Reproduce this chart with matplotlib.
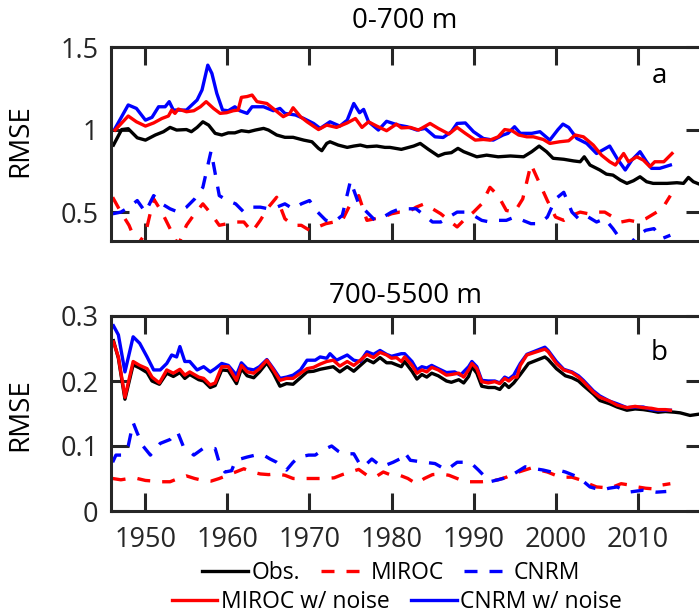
import numpy as np
import matplotlib
matplotlib.use("Agg")
import matplotlib.pyplot as plt
from matplotlib.lines import Line2D

plt.rcParams['font.family'] = ['Open Sans', 'DejaVu Sans']

# ---------------- Panel a (0-700 m) ----------------
obs_a_x = [1946.1, 1947.1, 1947.9, 1949.0, 1950.0, 1951.2, 1952.2, 1953.0, 1953.8, 1955.0, 1955.6, 1956.3,
           1957.0, 1957.7, 1958.5, 1959.3, 1960.1, 1960.9, 1961.7, 1962.6, 1963.4, 1964.4, 1965.0, 1966.0,
           1967.0, 1968.0, 1969.3, 1970.3, 1971.1, 1971.5, 1972.1, 1972.5, 1973.5, 1974.6, 1975.4, 1976.2,
           1977.0, 1978.2, 1979.2, 1979.8, 1981.2, 1982.7, 1983.5, 1984.5, 1985.7, 1986.5, 1987.3, 1988.1,
           1988.8, 1990.4, 1991.6, 1993.0, 1994.5, 1996.1, 1997.1, 1998.0, 1998.9, 1999.7, 2001.0, 2002.2,
           2003.0, 2003.5, 2004.2, 2005.4, 2006.2, 2007.0, 2007.9, 2008.7, 2009.5, 2010.3, 2011.1, 2011.9,
           2013.6, 2014.8, 2015.6, 2016.2, 2016.8, 2017.5, 2018.3]
obs_a_y = [0.906, 1.000, 1.005, 0.950, 0.936, 0.967, 0.987, 1.013, 0.997, 1.000, 0.987, 1.013,
           1.047, 1.027, 0.977, 0.967, 0.980, 0.980, 0.993, 0.987, 0.997, 1.007, 0.997, 0.967,
           0.953, 0.953, 0.936, 0.926, 0.886, 0.872, 0.916, 0.926, 0.906, 0.892, 0.900, 0.906,
           0.896, 0.900, 0.892, 0.892, 0.880, 0.900, 0.916, 0.880, 0.840, 0.855, 0.860, 0.886,
           0.866, 0.835, 0.845, 0.835, 0.840, 0.835, 0.866, 0.900, 0.866, 0.826, 0.820, 0.810,
           0.805, 0.835, 0.785, 0.755, 0.730, 0.724, 0.694, 0.674, 0.690, 0.714, 0.684, 0.674,
           0.674, 0.678, 0.674, 0.710, 0.684, 0.670, 0.665]

miroc_noise_a_x = [1946.3, 1947.9, 1948.9, 1950.0, 1951.0, 1952.0, 1952.8, 1953.2, 1953.6, 1954.0, 1955.0,
                   1955.9, 1956.7, 1957.4, 1958.3, 1959.1, 1959.9, 1960.7, 1961.3, 1961.7, 1962.4, 1963.0,
                   1963.6, 1964.8, 1965.8, 1966.8, 1967.6, 1968.0, 1968.9, 1969.7, 1971.1, 1972.1, 1973.3,
                   1974.6, 1975.6, 1976.4, 1977.2, 1978.2, 1979.4, 1980.6, 1981.2, 1982.3, 1983.3, 1984.7,
                   1985.7, 1987.0, 1988.0, 1989.0, 1990.2, 1991.2, 1992.0, 1993.0, 1993.8, 1994.7, 1995.5,
                   1996.5, 1997.3, 1998.5, 1999.3, 2000.5, 2001.6, 2002.4, 2003.4, 2004.6, 2005.6, 2006.6,
                   2007.3, 2008.3, 2008.9, 2009.9, 2010.7, 2011.5, 2012.1, 2013.2, 2014.2]
miroc_noise_a_y = [0.997, 1.082, 1.047, 1.021, 1.040, 1.067, 1.082, 1.118, 1.098, 1.124, 1.108,
                   1.114, 1.138, 1.169, 1.128, 1.098, 1.102, 1.114, 1.118, 1.195, 1.200, 1.209,
                   1.169, 1.158, 1.118, 1.078, 1.098, 1.132, 1.078, 1.047, 1.000, 1.027, 1.013,
                   1.040, 1.067, 1.013, 1.047, 1.021, 0.993, 1.033, 1.010, 1.013, 0.997, 1.037,
                   1.007, 0.973, 1.013, 0.977, 0.936, 0.940, 0.936, 0.956, 1.000, 0.993, 0.967,
                   0.956, 0.956, 0.940, 0.916, 0.926, 0.932, 0.967, 0.956, 0.906, 0.845, 0.805,
                   0.785, 0.855, 0.805, 0.835, 0.815, 0.775, 0.805, 0.805, 0.855]

cnrm_noise_a_x = [1946.3, 1947.9, 1948.9, 1950.0, 1950.8, 1951.6, 1952.4, 1952.9, 1953.4, 1955.0, 1956.3,
                  1956.9, 1957.6, 1958.1, 1958.7, 1959.4, 1960.1, 1960.9, 1961.5, 1962.4, 1963.0, 1964.4,
                  1965.6, 1966.4, 1967.0, 1968.3, 1969.3, 1970.5, 1971.3, 1972.5, 1973.7, 1974.6, 1975.4,
                  1976.1, 1976.6, 1977.2, 1978.4, 1979.4, 1980.8, 1981.9, 1983.1, 1984.1, 1985.3, 1986.3,
                  1987.3, 1988.0, 1989.0, 1990.0, 1991.2, 1992.4, 1993.6, 1994.2, 1995.0, 1995.7, 1997.1,
                  1998.1, 1999.3, 2000.3, 2000.9, 2001.6, 2002.6, 2003.8, 2005.0, 2006.6, 2007.5, 2008.5,
                  2009.3, 2010.3, 2011.1, 2011.7, 2012.7, 2014.0]
cnrm_noise_a_y = [1.007, 1.149, 1.128, 1.057, 1.074, 1.138, 1.138, 1.169, 1.118, 1.118, 1.179,
                  1.240, 1.390, 1.340, 1.219, 1.118, 1.114, 1.138, 1.114, 1.098, 1.138, 1.138,
                  1.114, 1.128, 1.098, 1.088, 1.067, 1.037, 1.007, 1.047, 1.021, 1.057, 1.158,
                  1.102, 1.122, 1.047, 0.997, 1.050, 1.027, 1.017, 0.997, 1.007, 0.956, 0.952,
                  0.987, 1.037, 1.040, 0.987, 0.946, 0.936, 0.967, 0.977, 1.017, 0.977, 0.977,
                  0.987, 0.936, 1.000, 1.033, 1.013, 0.946, 0.916, 0.855, 0.900, 0.825, 0.755,
                  0.815, 0.866, 0.805, 0.765, 0.765, 0.785]

model_years = list(range(1946, 2015))
miroc_a = [0.59, 0.50, 0.42, 0.30, 0.37, 0.58, 0.50, 0.40, 0.30, 0.42,
           0.49, 0.55, 0.49, 0.42, 0.43, 0.44, 0.44, 0.38, 0.45, 0.53,
           0.59, 0.46, 0.42, 0.42, 0.39, 0.41, 0.43, 0.44, 0.45, 0.55,
           0.60, 0.45, 0.46, 0.47, 0.49, 0.50, 0.50, 0.53, 0.55, 0.52,
           0.49, 0.45, 0.41, 0.46, 0.50, 0.55, 0.65, 0.60, 0.51, 0.50,
           0.58, 0.79, 0.68, 0.57, 0.47, 0.45, 0.48, 0.50, 0.49, 0.50,
           0.50, 0.47, 0.44, 0.45, 0.44, 0.46, 0.49, 0.52, 0.60]
cnrm_a = [0.49, 0.50, 0.53, 0.57, 0.50, 0.60, 0.55, 0.52, 0.50, 0.53,
          0.58, 0.65, 0.87, 0.60, 0.57, 0.55, 0.50, 0.53, 0.53, 0.52,
          0.53, 0.55, 0.52, 0.55, 0.57, 0.50, 0.45, 0.44, 0.48, 0.69,
          0.55, 0.50, 0.45, 0.47, 0.50, 0.52, 0.52, 0.52, 0.48, 0.44,
          0.44, 0.47, 0.50, 0.50, 0.48, 0.45, 0.44, 0.45, 0.45, 0.47,
          0.45, 0.43, 0.43, 0.47, 0.58, 0.62, 0.50, 0.45, 0.47, 0.44,
          0.46, 0.40, 0.33, 0.30, 0.36, 0.39, 0.40, 0.34, 0.36]

# ---------------- Panel b (700-5500 m) ----------------
obs_b_x = [1946.1, 1946.7, 1947.5, 1948.5, 1949.3, 1950.2, 1950.8, 1951.7, 1952.6, 1953.4, 1954.2, 1954.8,
           1955.4, 1956.5, 1957.1, 1957.9, 1958.5, 1959.3, 1960.1, 1961.1, 1961.7, 1962.4, 1963.2, 1963.9,
           1964.8, 1965.6, 1966.4, 1967.2, 1968.0, 1968.9, 1969.7, 1970.5, 1971.3, 1972.1, 1972.9, 1973.7,
           1974.6, 1975.4, 1976.2, 1977.0, 1977.8, 1978.6, 1979.4, 1980.0, 1981.2, 1981.6, 1982.5, 1983.1,
           1983.7, 1984.3, 1984.9, 1985.7, 1986.7, 1987.3, 1988.2, 1988.8, 1989.4, 1989.8, 1990.4, 1991.0,
           1991.8, 1992.6, 1993.2, 1993.8, 1994.3, 1994.9, 1995.7, 1996.7, 1997.7, 1998.7, 1999.1, 2000.1,
           2001.2, 2002.0, 2002.8, 2003.4, 2004.6, 2005.4, 2006.6, 2007.5, 2008.7, 2009.7, 2010.7, 2011.7,
           2012.5, 2013.4, 2014.5, 2015.2, 2016.4, 2017.5, 2018.3]
obs_b_y = [0.262, 0.235, 0.172, 0.225, 0.220, 0.213, 0.200, 0.195, 0.212, 0.207, 0.213, 0.204,
           0.210, 0.202, 0.200, 0.190, 0.193, 0.217, 0.216, 0.196, 0.219, 0.208, 0.205, 0.214,
           0.228, 0.212, 0.192, 0.196, 0.195, 0.205, 0.214, 0.215, 0.218, 0.220, 0.222, 0.214,
           0.222, 0.215, 0.224, 0.233, 0.228, 0.236, 0.228, 0.228, 0.222, 0.230, 0.215, 0.203,
           0.210, 0.206, 0.212, 0.208, 0.200, 0.198, 0.202, 0.197, 0.207, 0.222, 0.212, 0.192,
           0.190, 0.190, 0.187, 0.196, 0.190, 0.197, 0.210, 0.227, 0.232, 0.237, 0.233, 0.219,
           0.208, 0.205, 0.200, 0.193, 0.180, 0.170, 0.165, 0.160, 0.155, 0.157, 0.156, 0.154,
           0.152, 0.153, 0.152, 0.151, 0.147, 0.149, 0.147]

miroc_noise_b_x = [1946.1, 1946.7, 1947.5, 1948.5, 1949.3, 1950.2, 1950.8, 1951.7, 1952.6, 1953.4, 1954.2,
                   1954.8, 1955.4, 1956.5, 1957.1, 1957.9, 1958.5, 1959.3, 1960.1, 1961.1, 1961.7, 1962.4,
                   1963.2, 1963.9, 1964.8, 1965.6, 1966.4, 1967.2, 1968.0, 1968.9, 1969.7, 1970.5, 1971.3,
                   1972.1, 1972.9, 1973.7, 1974.6, 1975.4, 1976.2, 1977.0, 1977.8, 1978.6, 1979.4, 1980.0,
                   1980.6, 1981.2, 1981.6, 1982.5, 1983.1, 1983.7, 1984.3, 1984.9, 1985.7, 1986.7, 1987.3,
                   1988.2, 1988.8, 1989.4, 1989.8, 1990.4, 1991.0, 1991.8, 1992.6, 1993.2, 1993.8, 1994.3,
                   1994.9, 1995.3, 1995.7, 1996.5, 1997.7, 1998.7, 1999.1, 2000.1, 2001.0, 2002.0, 2002.8,
                   2003.4, 2004.6, 2005.4, 2006.6, 2007.5, 2008.7, 2009.7, 2010.7, 2011.7, 2012.5, 2013.4,
                   2014.0]
miroc_noise_b_y = [0.260, 0.237, 0.175, 0.230, 0.224, 0.219, 0.206, 0.197, 0.217, 0.212, 0.218,
                   0.209, 0.214, 0.206, 0.204, 0.194, 0.197, 0.222, 0.222, 0.201, 0.224, 0.214,
                   0.212, 0.219, 0.232, 0.217, 0.201, 0.204, 0.204, 0.212, 0.219, 0.221, 0.226,
                   0.230, 0.232, 0.223, 0.230, 0.224, 0.232, 0.241, 0.236, 0.244, 0.240, 0.235,
                   0.236, 0.230, 0.237, 0.224, 0.212, 0.217, 0.214, 0.221, 0.217, 0.209, 0.210,
                   0.212, 0.206, 0.217, 0.227, 0.219, 0.199, 0.197, 0.199, 0.196, 0.204, 0.200,
                   0.206, 0.206, 0.224, 0.240, 0.245, 0.249, 0.245, 0.227, 0.217, 0.213, 0.206,
                   0.199, 0.183, 0.175, 0.169, 0.163, 0.159, 0.161, 0.159, 0.158, 0.156, 0.156,
                   0.155]

cnrm_noise_b_x = [1946.1, 1946.7, 1947.5, 1948.5, 1949.3, 1950.2, 1951.0, 1951.8, 1952.6, 1953.2, 1953.8,
                  1954.2, 1954.8, 1955.4, 1956.3, 1957.1, 1957.9, 1958.5, 1959.3, 1960.1, 1961.1, 1961.7,
                  1962.4, 1963.2, 1963.9, 1964.8, 1965.6, 1966.4, 1967.2, 1968.0, 1968.9, 1969.7, 1970.7,
                  1971.3, 1972.1, 1972.5, 1973.3, 1974.6, 1975.4, 1976.2, 1977.0, 1977.8, 1978.6, 1979.4,
                  1980.0, 1981.2, 1981.6, 1982.5, 1983.1, 1983.7, 1984.3, 1984.9, 1985.7, 1986.7, 1987.7,
                  1988.4, 1989.4, 1989.8, 1990.4, 1991.0, 1991.8, 1992.6, 1993.2, 1993.8, 1994.3, 1994.9,
                  1995.7, 1996.5, 1997.7, 1998.7, 1999.1, 2000.1, 2001.0, 2002.0, 2002.8, 2003.4, 2004.6,
                  2005.4, 2006.6, 2007.5, 2008.7, 2009.7, 2010.7, 2011.7, 2012.5, 2013.4, 2014.0]
cnrm_noise_b_y = [0.285, 0.271, 0.214, 0.268, 0.258, 0.237, 0.217, 0.217, 0.227, 0.240, 0.237,
                  0.253, 0.230, 0.230, 0.217, 0.222, 0.214, 0.219, 0.227, 0.224, 0.209, 0.228,
                  0.219, 0.217, 0.222, 0.233, 0.219, 0.204, 0.206, 0.209, 0.217, 0.232, 0.232,
                  0.237, 0.235, 0.242, 0.232, 0.240, 0.232, 0.230, 0.245, 0.241, 0.247, 0.241,
                  0.238, 0.242, 0.242, 0.230, 0.217, 0.222, 0.220, 0.224, 0.219, 0.213, 0.214,
                  0.209, 0.222, 0.230, 0.222, 0.201, 0.200, 0.200, 0.197, 0.206, 0.203, 0.209,
                  0.227, 0.241, 0.247, 0.252, 0.247, 0.230, 0.218, 0.214, 0.208, 0.201, 0.185,
                  0.177, 0.169, 0.165, 0.159, 0.160, 0.160, 0.156, 0.155, 0.155, 0.155]

miroc_b = [0.050, 0.048, 0.050, 0.050, 0.047, 0.046, 0.045, 0.045, 0.050, 0.054,
           0.050, 0.047, 0.046, 0.050, 0.055, 0.060, 0.065, 0.060, 0.057, 0.056,
           0.057, 0.055, 0.050, 0.050, 0.050, 0.050, 0.050, 0.051, 0.056, 0.060,
           0.064, 0.055, 0.052, 0.060, 0.055, 0.055, 0.050, 0.042, 0.050, 0.056,
           0.057, 0.055, 0.050, 0.045, 0.045, 0.045, 0.046, 0.048, 0.052, 0.058,
           0.062, 0.066, 0.063, 0.060, 0.055, 0.052, 0.052, 0.048, 0.042, 0.037,
           0.036, 0.037, 0.042, 0.040, 0.037, 0.035, 0.034, 0.040, 0.042]

cnrm_b_x = [1946.0, 1946.4, 1947.2, 1947.9, 1948.5, 1949.0, 1949.7, 1950.6, 1951.8, 1953.0, 1953.9,
            1954.6, 1955.9, 1957.0, 1958.5, 1959.1, 1959.7, 1960.5, 1961.0, 1962.4, 1963.4, 1964.4,
            1965.2, 1966.0, 1967.2, 1968.0, 1968.7, 1969.9, 1970.7, 1971.5, 1972.7, 1973.5, 1974.1,
            1975.4, 1976.0, 1976.6, 1977.6, 1978.8, 1980.2, 1981.0, 1981.6, 1982.3, 1984.0, 1985.3,
            1986.7, 1988.0, 1989.6, 1990.6, 1992.0, 1993.6, 1994.9, 1996.3, 1997.5, 1998.5, 1999.5,
            2000.3, 2001.2, 2002.8, 2004.2, 2005.6, 2006.5, 2007.5, 2008.9, 2010.7, 2012.3, 2013.5]
cnrm_b_y = [0.075, 0.086, 0.086, 0.100, 0.136, 0.120, 0.100, 0.086, 0.104, 0.110, 0.122,
            0.100, 0.086, 0.096, 0.096, 0.070, 0.060, 0.062, 0.078, 0.083, 0.086, 0.086,
            0.080, 0.075, 0.063, 0.075, 0.083, 0.086, 0.086, 0.093, 0.100, 0.092, 0.088,
            0.088, 0.075, 0.068, 0.080, 0.068, 0.075, 0.080, 0.090, 0.078, 0.075, 0.073,
            0.063, 0.075, 0.075, 0.063, 0.045, 0.050, 0.057, 0.068, 0.065, 0.063, 0.060,
            0.063, 0.060, 0.052, 0.037, 0.032, 0.035, 0.037, 0.029, 0.032, 0.029, 0.030]

x_ticks = [1950, 1960, 1970, 1980, 1990, 2000, 2010]
yticks_a = [0.5, 1.0, 1.5]
yticklabels_a = ['0.5', '1', '1.5']
yticks_b = [0.0, 0.1, 0.2, 0.3]
yticklabels_b = ['0', '0.1', '0.2', '0.3']

BLACK, RED, BLUE = '#000000', '#ff0000', '#0000ff'
GRAY = '#262626'
LW = 2.4
DASH = (3.9, 3.6)

W, H = 699, 615
fig = plt.figure(figsize=(W / 100, H / 100), dpi=100)

def px_axes(left, top, right, bottom):
    return fig.add_axes([left / W, 1 - bottom / H, (right - left) / W, (bottom - top) / H])

ax_a = px_axes(111, 47, 704, 241)
ax_b = px_axes(111, 316, 704, 511)

def style(ax, yt, ytl, ylim, show_x):
    ax.set_xlim(1945.8, 2018.1)
    ax.set_ylim(*ylim)
    ax.set_xticks(x_ticks)
    ax.set_yticks(yt)
    ax.set_yticklabels(ytl)
    if not show_x:
        ax.set_xticklabels([])
    ax.tick_params(direction='in', top=True, right=True, length=13, width=2.2,
                   colors=GRAY, labelsize=19.5)
    ax.tick_params(axis='x', pad=11)
    ax.tick_params(axis='y', pad=9)
    for s in ax.spines.values():
        s.set_linewidth(2.2)
        s.set_color(GRAY)
    ax.set_facecolor('white')

# panel a
ax_a.plot(obs_a_x, obs_a_y, color=BLACK, lw=LW)
ax_a.plot(model_years, miroc_a, color=RED, lw=LW, dashes=DASH)
ax_a.plot(model_years, cnrm_a, color=BLUE, lw=LW, dashes=DASH)
ax_a.plot(cnrm_noise_a_x, cnrm_noise_a_y, color=BLUE, lw=LW)
ax_a.plot(miroc_noise_a_x, miroc_noise_a_y, color=RED, lw=LW)
style(ax_a, yticks_a, yticklabels_a, (0.325, 1.5), False)

# panel b
ax_b.plot(obs_b_x, obs_b_y, color=BLACK, lw=LW)
ax_b.plot(model_years, miroc_b, color=RED, lw=LW, dashes=DASH)
ax_b.plot(cnrm_b_x, cnrm_b_y, color=BLUE, lw=LW, dashes=DASH)
ax_b.plot(cnrm_noise_b_x, cnrm_noise_b_y, color=BLUE, lw=LW)
ax_b.plot(miroc_noise_b_x, miroc_noise_b_y, color=RED, lw=LW)
style(ax_b, yticks_b, yticklabels_b, (0.0, 0.3), True)

# titles, labels
fig.text(405 / W, 1 - 28 / H, '0-700 m', ha='center', va='baseline', fontsize=20, color='black')
fig.text(405 / W, 1 - 303 / H, '700-5500 m', ha='center', va='baseline', fontsize=20, color='black')
fig.text(659 / W, 1 - 83 / H, 'a', ha='center', va='baseline', fontsize=20, color='black')
fig.text(659 / W, 1 - 360 / H, 'b', ha='center', va='baseline', fontsize=20, color='black')
fig.text(20 / W, 1 - 141 / H, 'RMSE', rotation=90, ha='center', va='center', fontsize=20, color='black')
fig.text(20 / W, 1 - 415 / H, 'RMSE', rotation=90, ha='center', va='center', fontsize=20, color='black')

# legends
h1 = [Line2D([], [], color=BLACK, lw=LW),
      Line2D([], [], color=RED, lw=LW, dashes=DASH),
      Line2D([], [], color=BLUE, lw=LW, dashes=DASH)]
h2 = [Line2D([], [], color=RED, lw=LW),
      Line2D([], [], color=BLUE, lw=LW)]
leg_kw = dict(frameon=False, fontsize=16.5, handlelength=2.0, handletextpad=0.17,
              columnspacing=0.9, borderpad=0, borderaxespad=0, loc='center')
leg1 = fig.legend(h1, ['Obs.', 'MIROC', 'CNRM'], ncol=3,
                  bbox_to_anchor=(391 / W, 1 - 573 / H), **leg_kw)
leg2 = fig.legend(h2, ['MIROC w/ noise', 'CNRM w/ noise'], ncol=2,
                  bbox_to_anchor=(397 / W, 1 - 602 / H), **leg_kw)
for lg in (leg1, leg2):
    for t in lg.get_texts():
        t.set_color('black')

fig.savefig('out.png', dpi=100)
